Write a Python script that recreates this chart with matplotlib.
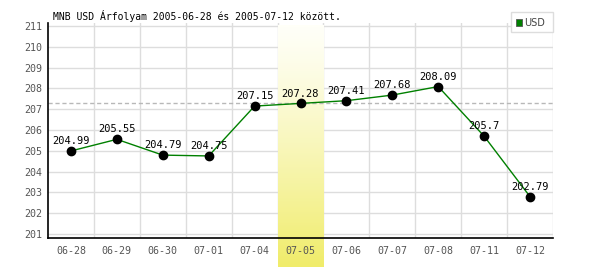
import matplotlib
matplotlib.use("Agg")
import matplotlib.pyplot as plt
import matplotlib.transforms as mtransforms
from matplotlib.colors import LinearSegmentedColormap
from matplotlib.patches import Rectangle
import numpy as np

dates = ["06-28", "06-29", "06-30", "07-01", "07-04", "07-05",
         "07-06", "07-07", "07-08", "07-11", "07-12"]
values = [204.99, 205.55, 204.79, 204.75, 207.15, 207.28,
          207.41, 207.68, 208.09, 205.7, 202.79]
value_labels = ["204.99", "205.55", "204.79", "204.75", "207.15", "207.28",
                "207.41", "207.68", "208.09", "205.7", "202.79"]
ref_level = 207.3
highlight_idx = 5
yticks = list(range(201, 212))
title = "MNB USD Árfolyam 2005-06-28 és 2005-07-12 között."
series_name = "USD"

plt.rcParams['font.family'] = ['DejaVu Sans Mono']

fig = plt.figure(figsize=(6, 2.7), dpi=100)
ax = fig.add_axes([48/600, 1-238/270, (553-48)/600, (238-23)/270])

n = len(dates)
x = np.arange(n)
ax.set_xlim(-0.5, n-0.5)
ax.set_ylim(200.8, 211.15)

# grid
for b in np.arange(0.5, n, 1):
    ax.axvline(b, color='#dddddd', lw=1, zorder=0)
for yt in yticks:
    ax.axhline(yt, color='#dddddd', lw=1, zorder=0)

# highlight gradient
trans = mtransforms.blended_transform_factory(ax.transData, ax.transAxes)
grad = np.linspace(0, 1, 256).reshape(-1, 1) ** 1.2
cmap = LinearSegmentedColormap.from_list('hl', ['#fffff8', '#f0ec6a'])
ax.imshow(grad, cmap=cmap, aspect='auto', origin='upper',
          extent=(highlight_idx-0.5, highlight_idx+0.5, -0.135, 0.99),
          transform=trans, clip_on=False, zorder=0.5)

ax.axhline(ref_level, color='#b8b8b8', lw=1, ls=(0, (3, 2)), zorder=1)

ax.plot(x, values, color='#008000', lw=1, zorder=2)
ax.plot(x, values, 'o', color='black', ms=6, zorder=3)
for xi, v, lab in zip(x, values, value_labels):
    ax.annotate(lab, (xi, v), xytext=(0, 3.5), textcoords='offset points',
                ha='center', va='bottom', fontsize=7.5, color='black', zorder=4)

ax.set_xticks(x)
ax.set_xticklabels(dates)
ax.set_yticks(yticks)
ax.tick_params(axis='both', length=0, labelsize=7.2, colors='#555555')
ax.tick_params(axis='x', pad=6)
ax.tick_params(axis='y', pad=4)
for s in ['top', 'right']:
    ax.spines[s].set_visible(False)
for s in ['left', 'bottom']:
    ax.spines[s].set_color('black')
    ax.spines[s].set_linewidth(1.2)

fig.text(53/600, 1-16/270, title, fontsize=7, color='black', va='center', ha='left')

# legend box
fig.patches.append(Rectangle((511/600, 1-32/270), 42/600, 20/270, transform=fig.transFigure,
                             facecolor='white', edgecolor='#dddddd', lw=1, zorder=5))
fig.patches.append(Rectangle((515.5/600, 1-25.5/270), 6/600, 6/270, transform=fig.transFigure,
                             facecolor='#008000', edgecolor='#555555', lw=0.6, zorder=6))
fig.text(524/600, 1-22.5/270, series_name, fontsize=7, color='#444444', va='center', ha='left',
         family='DejaVu Sans', zorder=7)

fig.savefig('out.png', dpi=100)
